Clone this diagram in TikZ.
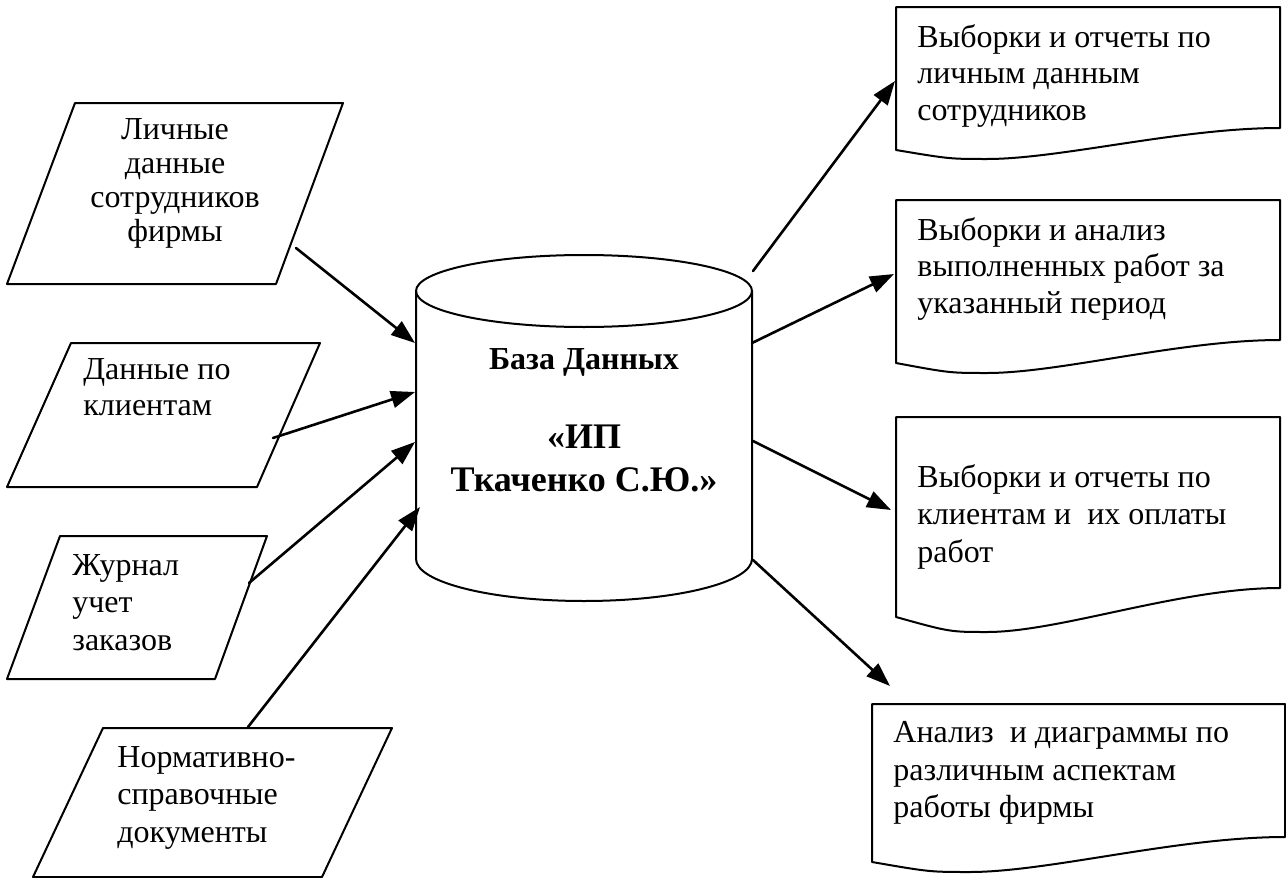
\documentclass[tikz,border=0pt]{standalone}
\usepackage{fontspec}
\setmainfont{Liberation Serif}
\usetikzlibrary{arrows.meta}

\begin{document}
\begin{tikzpicture}[line cap=round,line join=round,>={Triangle[length=12pt,width=8.5pt]},x=0.5pt,y=-0.5pt,
  outline/.style={line width=1pt},
  flow/.style={->,line width=1.3pt},
  boxtext/.style={inner sep=0pt,align=left,font=\fontsize{16}{18.25}\selectfont},
  widetext/.style={boxtext,font=\fontsize{16}{18.75}\selectfont},
  dbtext/.style={inner sep=0pt,align=center,font=\bfseries\fontsize{18}{21.5}\selectfont}]
\useasboundingbox (0,0) rectangle (1286,878);
% input data
\draw[outline] (75,103) -- (343,103) -- (276,284) -- (7,284) -- cycle;
\draw[outline] (71,343) -- (320,343) -- (257,487) -- (7,487) -- cycle;
\draw[outline] (60,536) -- (267,536) -- (215,679) -- (7,679) -- cycle;
\draw[outline] (103,728) -- (392,728) -- (322,877) -- (33,877) -- cycle;
\node[boxtext,align=center,anchor=north,font=\fontsize{16}{17}\selectfont] (lichnye) at (175,118) {Личные\\данные\\сотрудников\\фирмы};
\node[boxtext,anchor=north west] (klienty) at (83,358) {Данные по\\клиентам};
\node[widetext,anchor=north west] (zhurnal) at (72,554) {Журнал\\учет\\заказов};
\node[widetext,anchor=north west] (normativ) at (117,746) {Нормативно-\\справочные\\документы};
% database
\draw[outline] (584,291) ellipse [x radius=168, y radius=36];
\draw[outline] (416,291) -- (416,559) arc [start angle=180, end angle=360, x radius=84pt, y radius=21pt] -- (752,291);
\node[dbtext,font=\bfseries\fontsize{16}{18}\selectfont,anchor=north] (dbtitle) at (584,348) {База Данных};
\node[dbtext,anchor=north] (dbname) at (584,425) {«ИП\\Ткаченко С.Ю.»};
% reports
\foreach \l/\r/\t/\lb/\rb/\d in {896/1280/7/150/128/159, 896/1280/200/363/340/373, 896/1280/417/617/588/632, 872/1285/704/862/837/872}
  \draw[outline] (\l,\t) -- (\r,\t) -- (\r,\rb) .. controls (\r-0.26*\r+0.26*\l,\rb) and (\l+0.427*\r-0.427*\l,\d) .. (\l+0.237*\r-0.237*\l,\d) .. controls (\l+0.14*\r-0.14*\l,\d) .. (\l,\lb) -- cycle;
\node[boxtext,anchor=north west] (otchet1) at (917,24) {Выборки и отчеты по\\личным данным\\сотрудников};
\node[boxtext,anchor=north west] (otchet2) at (917,217) {Выборки и анализ\\выполненных работ за\\указанный период};
\node[widetext,anchor=north west] (otchet3) at (917,464) {Выборки и отчеты по\\клиентам и\ \ их оплаты\\работ};
\node[widetext,anchor=north west] (analiz) at (893,721) {Анализ\ \ и диаграммы по\\различным аспектам\\работы фирмы};
% connectors
\coordinate (lichnye-out) at (296,248);
\coordinate (klienty-out) at (273,438);
\coordinate (zhurnal-out) at (249,583);
\coordinate (normativ-out) at (248,727);
\coordinate (db-in1) at (415,343);
\coordinate (db-in2) at (415,392);
\coordinate (db-in3) at (415,442);
\coordinate (db-in4) at (420,507);
\coordinate (db-out1) at (753,271);
\coordinate (db-out2) at (752,343);
\coordinate (db-out3) at (753,441);
\coordinate (db-out4) at (753,560);
\coordinate (otchet1-in) at (895,81);
\coordinate (otchet2-in) at (894,274);
\coordinate (otchet3-in) at (891,510);
\coordinate (analiz-in) at (890,686);
\draw[flow] (lichnye-out) -- (db-in1);
\draw[flow] (klienty-out) -- (db-in2);
\draw[flow] (zhurnal-out) -- (db-in3);
\draw[flow] (normativ-out) -- (db-in4);
\draw[flow] (db-out1) -- (otchet1-in);
\draw[flow] (db-out2) -- (otchet2-in);
\draw[flow] (db-out3) -- (otchet3-in);
\draw[flow] (db-out4) -- (analiz-in);
\end{tikzpicture}
\end{document}
